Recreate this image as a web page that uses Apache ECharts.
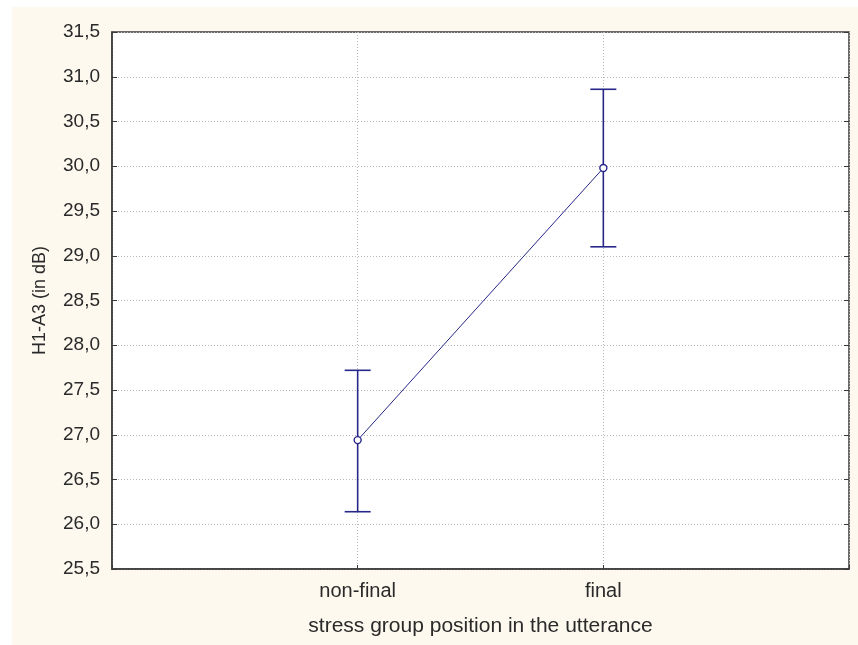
<!DOCTYPE html>
<html>
<head>
<meta charset="utf-8">
<script src="https://cdn.jsdelivr.net/npm/echarts@6/dist/echarts.min.js"></script>
<style>
  html, body { margin: 0; padding: 0; background: #ffffff; }
  #chart { width: 858px; height: 645px; }
</style>
</head>
<body>
<div id="chart"></div>
<script>
// Group means of H1-A3 with their confidence interval bounds
const categories = ['non-final', 'final'];
const means = [26.94, 29.98];
const lowerBounds = [26.14, 29.10];
const upperBounds = [27.72, 30.86];
const yTicks = [25.5, 26.0, 26.5, 27.0, 27.5, 28.0, 28.5, 29.0, 29.5, 30.0, 30.5, 31.0, 31.5];

const navy = '#27278a';
const font = 'Liberation Sans, Arial, sans-serif';
const textColor = '#2a2a2a';
const commaFmt = v => Number(v).toFixed(1).replace('.', ',');

const chart = echarts.init(document.getElementById('chart'), null, { renderer: 'canvas' });

const linePoints = categories.map((c, i) => [i + 1, means[i]]);
const barData = categories.map((c, i) => [i + 1, lowerBounds[i], upperBounds[i]]);

chart.setOption({
  animation: false,
  backgroundColor: '#ffffff',
  graphic: [{
    type: 'rect',
    z: -10,
    shape: { x: 12, y: 7, width: 846, height: 638 },
    style: { fill: '#fdf9ef' }
  }],
  grid: {
    left: 112, top: 32, right: 9, bottom: 76,
    show: true, backgroundColor: '#ffffff',
    borderColor: '#3a3a3a', borderWidth: 1.5
  },
  xAxis: {
    type: 'value', min: 0, max: 3, interval: 1,
    name: 'stress group position in the utterance',
    nameLocation: 'middle', nameGap: 47,
    nameTextStyle: { fontFamily: font, fontSize: 21, color: textColor },
    axisLine: { show: true, lineStyle: { color: '#3a3a3a', width: 1.5 } },
    axisTick: { show: true, inside: true, length: 4, lineStyle: { color: '#3a3a3a' } },
    axisLabel: {
      fontFamily: font, fontSize: 20, color: textColor, margin: 12,
      formatter: v => (v >= 1 && v <= categories.length) ? categories[v - 1] : ''
    },
    splitLine: { show: true, lineStyle: { color: '#b8b8b8', type: [1, 2], width: 1 } }
  },
  yAxis: [{
    type: 'value', min: yTicks[0], max: yTicks[yTicks.length - 1], interval: 0.5,
    name: 'H1-A3 (in dB)',
    nameLocation: 'middle', nameGap: 63, nameRotate: 90,
    nameTextStyle: { fontFamily: font, fontSize: 18, color: textColor },
    axisLine: { show: true, lineStyle: { color: '#3a3a3a', width: 1.5 } },
    axisTick: { show: true, inside: true, length: 5, lineStyle: { color: '#3a3a3a' } },
    axisLabel: { fontFamily: font, fontSize: 19, color: textColor, margin: 12, formatter: commaFmt },
    splitLine: { show: true, lineStyle: { color: '#b8b8b8', type: [1, 2], width: 1 } }
  }, {
    type: 'value', position: 'right', min: yTicks[0], max: yTicks[yTicks.length - 1], interval: 0.5,
    axisLine: { show: false },
    axisTick: { show: true, inside: true, length: 5, lineStyle: { color: '#3a3a3a' } },
    axisLabel: { show: false },
    splitLine: { show: false }
  }],
  series: [{
    type: 'custom',
    name: 'interval',
    data: barData,
    z: 3,
    renderItem: (params, api) => {
      const x = api.value(0);
      const lo = api.coord([x, api.value(1)]);
      const hi = api.coord([x, api.value(2)]);
      const half = 13;
      const st = { stroke: navy, lineWidth: 1.6 };
      return {
        type: 'group',
        children: [
          { type: 'line', shape: { x1: lo[0], y1: lo[1], x2: hi[0], y2: hi[1] }, style: st },
          { type: 'line', shape: { x1: lo[0] - half, y1: lo[1], x2: lo[0] + half, y2: lo[1] }, style: st },
          { type: 'line', shape: { x1: hi[0] - half, y1: hi[1], x2: hi[0] + half, y2: hi[1] }, style: st }
        ]
      };
    }
  }, {
    type: 'line',
    name: 'mean',
    data: linePoints,
    z: 4,
    symbol: 'circle',
    symbolSize: 7,
    lineStyle: { color: navy, width: 1 },
    itemStyle: { color: '#ffffff', borderColor: navy, borderWidth: 1.4 }
  }]
});
</script>
</body>
</html>
